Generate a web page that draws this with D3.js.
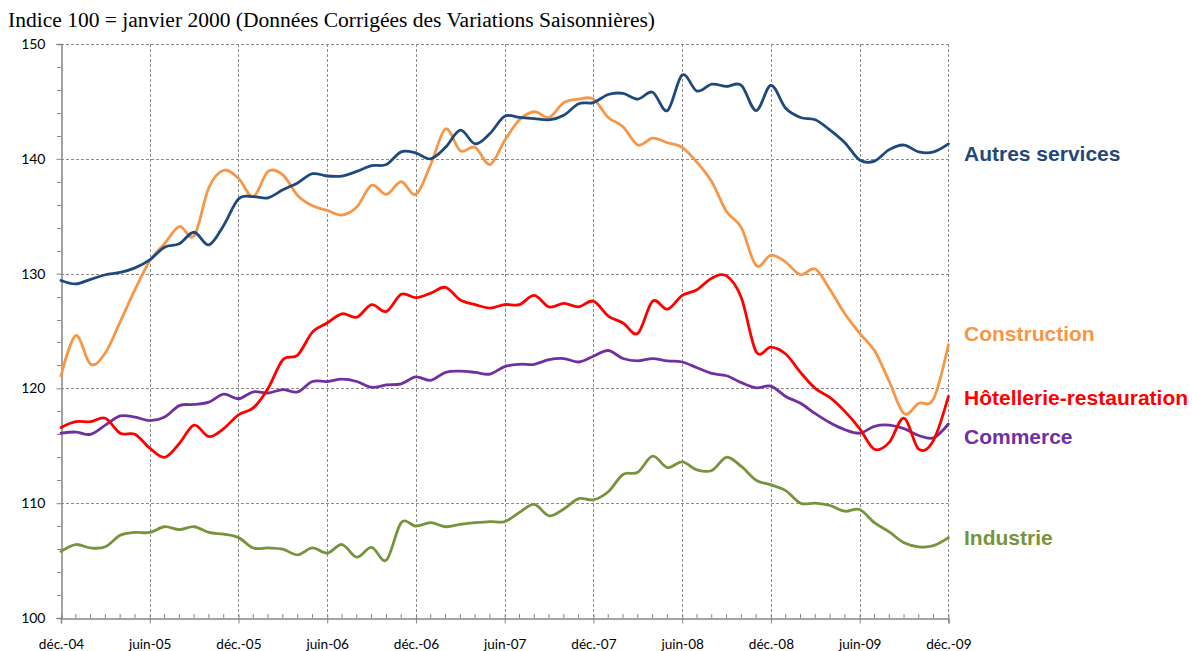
<!DOCTYPE html>
<html>
<head>
<meta charset="utf-8">
<script src="https://cdn.jsdelivr.net/npm/d3@7"></script>
<style>
  html, body { margin: 0; padding: 0; background: #fff; }
  svg { display: block; }
</style>
</head>
<body>
<svg id="chart" width="1192" height="651"></svg>
<script>
// ---- data ----
const title = "Indice 100 = janvier 2000 (Données Corrigées des Variations Saisonnières)";
const xTickLabels = ["déc.-04","juin-05","déc.-05","juin-06","déc.-06","juin-07","déc.-07","juin-08","déc.-08","juin-09","déc.-09"];
const yTicks = [100, 110, 120, 130, 140, 150];
const seriesNames = ["Autres services","Construction","Hôtellerie-restauration","Commerce","Industrie"];

const autresServices = [129.4,129.1,129.5,129.9,130.1,130.5,131.2,132.3,132.6,133.6,132.5,134.2,136.5,136.7,136.6,
  137.3,137.9,138.7,138.5,138.5,138.9,139.4,139.5,140.6,140.5,140.0,141.0,142.5,141.3,142.2,
  143.7,143.6,143.5,143.4,143.8,144.8,144.9,145.6,145.7,145.2,145.8,144.2,147.3,145.9,146.5,
  146.3,146.4,144.2,146.4,144.4,143.6,143.4,142.5,141.4,139.9,139.8,140.8,141.2,140.6,140.6,141.3];
const construction = [121.1,124.6,122.1,123.1,125.8,128.6,131.1,132.6,134.1,133.3,137.5,139.0,138.3,136.7,138.9,
  138.6,136.8,135.9,135.5,135.1,135.8,137.7,136.9,138.0,136.9,139.5,142.6,140.7,141.0,139.5,
  141.6,143.4,144.1,143.6,144.9,145.2,145.2,143.6,142.8,141.2,141.8,141.4,141.0,139.7,138.0,
  135.4,134.0,130.7,131.6,131.0,129.9,130.4,128.6,126.5,124.8,123.3,120.6,117.8,118.7,119.1,123.8];
const hotellerie = [116.6,117.1,117.1,117.4,116.1,116.0,114.8,114.0,115.2,116.8,115.8,116.5,117.7,118.3,120.0,
  122.5,122.9,124.9,125.7,126.5,126.2,127.3,126.7,128.2,127.9,128.3,128.8,127.7,127.3,127.0,
  127.3,127.3,128.1,127.1,127.4,127.1,127.6,126.3,125.7,124.8,127.6,126.9,128.1,128.6,129.6,
  129.8,127.9,123.2,123.6,123.0,121.4,120.0,119.2,118.0,116.5,114.7,115.3,117.4,114.7,115.5,119.3];
const commerce = [116.1,116.2,116.0,116.8,117.6,117.5,117.2,117.5,118.5,118.6,118.8,119.5,119.1,119.7,119.6,
  119.9,119.7,120.6,120.6,120.8,120.6,120.1,120.3,120.4,121.0,120.7,121.4,121.5,121.4,121.25,
  121.9,122.1,122.1,122.5,122.6,122.3,122.8,123.3,122.6,122.4,122.6,122.4,122.3,121.8,121.3,
  121.1,120.5,120.05,120.2,119.3,118.7,117.8,117.0,116.4,116.1,116.7,116.8,116.5,115.9,115.7,116.9];
const industrie = [105.8,106.4,106.1,106.2,107.2,107.45,107.45,107.95,107.7,107.95,107.45,107.3,107.0,106.1,106.1,
  106.0,105.5,106.1,105.65,106.4,105.3,106.15,105.05,108.3,108.0,108.3,107.95,108.15,108.3,108.4,
  108.4,109.2,109.9,108.9,109.5,110.4,110.3,111.0,112.5,112.7,114.1,113.1,113.6,112.9,112.85,
  114.0,113.2,112.0,111.6,111.1,110.0,110.0,109.8,109.3,109.45,108.3,107.5,106.55,106.2,106.3,107.0];

// ---- layout / style ----
const colors = ["#1F497D","#F79646","#FF0000","#7030A0","#77933C"];
const labelAt = [140.5, 124.8, 119.25, 115.8, 107.0]; // label vertical anchor in data units
const mLeft = 61, mRight = 948.4, mTop = 44, mBottom = 618;

const svg = d3.select("#chart");
const nMonths = autresServices.length;
const x = d3.scaleLinear().domain([0, nMonths - 1]).range([mLeft, mRight]);
const y = d3.scaleLinear().domain([100, 150]).range([mBottom, mTop]);

// title
svg.append("text")
  .attr("x", 8).attr("y", 27)
  .attr("font-family", "'Liberation Serif', 'Times New Roman', serif")
  .attr("font-size", 20)
  .attr("textLength", 647)
  .attr("lengthAdjust", "spacingAndGlyphs")
  .attr("fill", "#000")
  .text(title);

// gridlines
const grid = svg.append("g");
const majorIdx = d3.range(0, nMonths, 6);
grid.selectAll("line.hg").data(yTicks.filter(v => v > 100)).join("line")
  .attr("x1", mLeft).attr("x2", mRight)
  .attr("y1", d => Math.round(y(d)) + 0.5).attr("y2", d => Math.round(y(d)) + 0.5)
  .attr("stroke", "#8c8c8c").attr("stroke-width", 1).attr("stroke-dasharray", "3,2");
grid.selectAll("line.vg").data(majorIdx.filter(i => i > 0)).join("line")
  .attr("x1", d => Math.round(x(d)) + 0.5).attr("x2", d => Math.round(x(d)) + 0.5)
  .attr("y1", mTop).attr("y2", mBottom)
  .attr("stroke", "#8c8c8c").attr("stroke-width", 1).attr("stroke-dasharray", "3,2");

// y axis
const yAxis = d3.axisLeft(y).tickValues(yTicks).tickSize(5).tickPadding(11).tickFormat(d3.format("d"));
const gy = svg.append("g").attr("transform", `translate(${mLeft + 0.5},0)`).call(yAxis);
gy.select(".domain").attr("stroke", "#868686").attr("stroke-width", 1.5);
gy.selectAll(".tick line").attr("stroke", "#868686");
gy.selectAll(".tick text").attr("font-family", "Lato, 'Open Sans', sans-serif").attr("font-size", 14).attr("fill", "#000");
const yMinor = d3.range(100, 150.01, 2).filter(v => v % 10 !== 0);
svg.append("g").selectAll("line").data(yMinor).join("line")
  .attr("x1", mLeft - 4).attr("x2", mLeft)
  .attr("y1", d => Math.round(y(d)) + 0.5).attr("y2", d => Math.round(y(d)) + 0.5)
  .attr("stroke", "#868686");

// x axis
const xAxis = d3.axisBottom(x).tickValues(majorIdx).tickSize(5).tickPadding(16)
  .tickFormat((d, i) => xTickLabels[i]);
const gx = svg.append("g").attr("transform", `translate(0,${mBottom + 0.5})`).call(xAxis);
gx.select(".domain").attr("stroke", "#868686").attr("stroke-width", 1.5);
gx.selectAll(".tick line").attr("stroke", "#868686").attr("y1", -4);
gx.selectAll(".tick text").attr("font-family", "Lato, 'Open Sans', sans-serif").attr("font-size", 13.6).attr("fill", "#000");
svg.append("g").selectAll("line").data(d3.range(0, nMonths).filter(i => i % 6 !== 0)).join("line")
  .attr("x1", d => x(d)).attr("x2", d => x(d))
  .attr("y1", mBottom - 4).attr("y2", mBottom)
  .attr("stroke", "#868686");

// series
const allSeries = [autresServices, construction, hotellerie, commerce, industrie];
const line = d3.line().x((d, i) => x(i)).y(d => y(d)).curve(d3.curveCardinal.tension(0));
const order = [4, 3, 2, 1, 0];
svg.append("g").selectAll("path").data(order).join("path")
  .attr("d", k => line(allSeries[k]))
  .attr("fill", "none")
  .attr("stroke", k => colors[k])
  .attr("stroke-width", 2.8)
  .attr("stroke-linejoin", "round")
  .attr("stroke-linecap", "round");

// labels
svg.append("g").selectAll("text").data(seriesNames).join("text")
  .attr("x", 964)
  .attr("y", (d, i) => y(labelAt[i]))
  .attr("dy", "0.36em")
  .attr("font-family", "'Liberation Sans', Arial, sans-serif")
  .attr("font-weight", "bold")
  .attr("font-size", 21)
  .attr("fill", (d, i) => colors[i])
  .text(d => d);
</script>
</body>
</html>
